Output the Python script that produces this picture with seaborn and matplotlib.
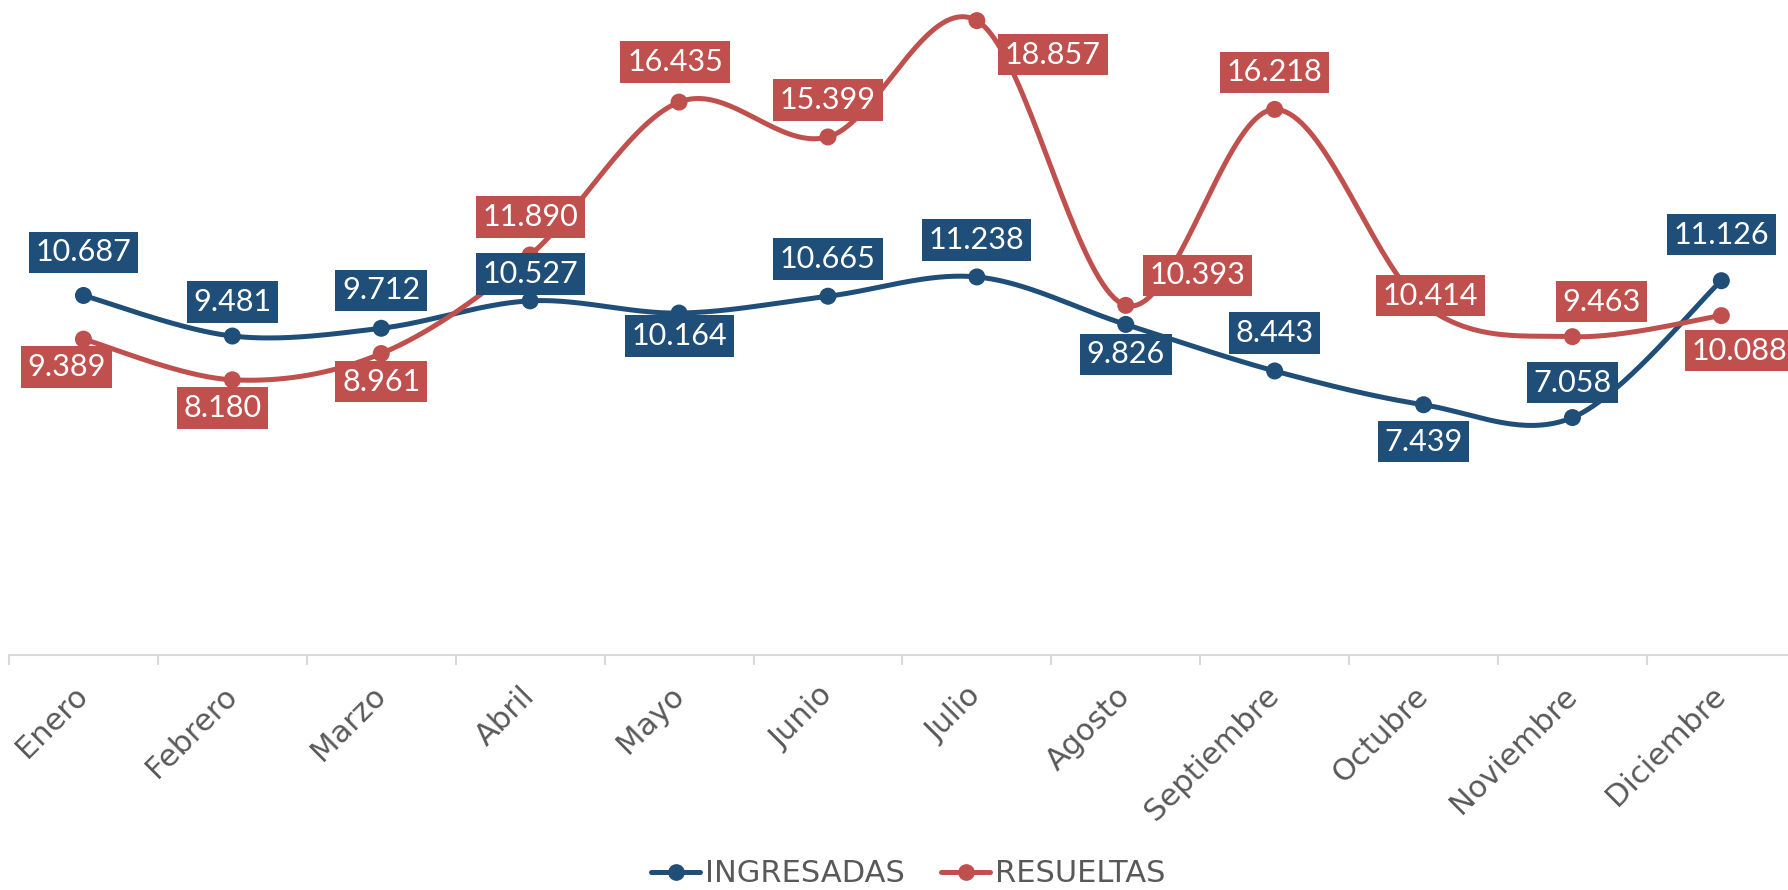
import numpy as np
import pandas as pd
import matplotlib
matplotlib.use("Agg")
import matplotlib.pyplot as plt
from matplotlib.lines import Line2D
import seaborn as sns

months = ["Enero", "Febrero", "Marzo", "Abril", "Mayo", "Junio", "Julio",
          "Agosto", "Septiembre", "Octubre", "Noviembre", "Diciembre"]
ingresadas = [10.687, 9.481, 9.712, 10.527, 10.164, 10.665, 11.238,
              9.826, 8.443, 7.439, 7.058, 11.126]
resueltas = [9.389, 8.180, 8.961, 11.890, 16.435, 15.399, 18.857,
             10.393, 16.218, 10.414, 9.463, 10.088]
series_names = ["INGRESADAS", "RESUELTAS"]

BLUE = "#1F4E79"
RED = "#C0504D"
GREY = "#595959"

# label offsets in pixels (dx, dy with y up)
off_ing = [(0, 43), (0, 34), (0, 38), (0, 27), (0, -23), (0, 37), (0, 37),
           (0, -30), (0, 38), (0, -37), (0, 35), (0, 46)]
off_res = [(-17, -28), (-10, -28), (0, -28), (0, 38), (-4, 40), (0, 37), (76, -34),
           (72, 30), (0, 37), (7, 9), (29, 35), (18, -35)]


def smooth(y, n=40):
    """Excel-style smoothed line (cubic Bezier, Catmull-Rom tangents / 6)."""
    y = np.asarray(y, float)
    x = np.arange(len(y), dtype=float)
    P = np.column_stack([x, y])
    out = []
    t = np.linspace(0, 1, n)[:, None]
    for i in range(len(P) - 1):
        p0 = P[max(i - 1, 0)]
        p1 = P[i]
        p2 = P[i + 1]
        p3 = P[min(i + 2, len(P) - 1)]
        c1 = p1 + (p2 - p0) / 6.0
        c2 = p2 - (p3 - p1) / 6.0
        seg = ((1 - t) ** 3) * p1 + 3 * ((1 - t) ** 2) * t * c1 + 3 * (1 - t) * t ** 2 * c2 + t ** 3 * p2
        out.append(seg if i == 0 else seg[1:])
    return np.vstack(out)


sns.set_theme(style="white")
plt.rcParams["font.family"] = ["DejaVu Sans"]

fig = plt.figure(figsize=(17.88, 8.90), dpi=100)
ax = fig.add_axes([9 / 1788, 1 - 655 / 890, 1786.8 / 1788, 655 / 890])

rows = []
for name, vals in zip(series_names, [ingresadas, resueltas]):
    c = smooth(vals)
    for xx, yy in c:
        rows.append({"x": xx, "y": yy, "serie": name})
curve_df = pd.DataFrame(rows)
pts_df = pd.DataFrame({
    "x": list(range(12)) * 2,
    "y": ingresadas + resueltas,
    "serie": [series_names[0]] * 12 + [series_names[1]] * 12,
})
palette = {series_names[0]: BLUE, series_names[1]: RED}

sns.lineplot(data=curve_df, x="x", y="y", hue="serie", palette=palette,
             linewidth=3.6, sort=False, estimator=None, legend=False, ax=ax,
             zorder=2)
sns.scatterplot(data=pts_df, x="x", y="y", hue="serie", palette=palette,
                s=150, edgecolor="none", legend=False, ax=ax, zorder=3)

for vals, offs, col in [(ingresadas, off_ing, BLUE), (resueltas, off_res, RED)]:
    for i, (v, (dx, dy)) in enumerate(zip(vals, offs)):
        ax.annotate(f"{v:.3f}", xy=(i, v), xytext=(dx, dy), textcoords="offset pixels",
                    ha="center", va="center", color="white", fontsize=22,
                    family="Lato", fontweight="normal",
                    bbox=dict(boxstyle="square,pad=0.22", fc=col, ec="none"),
                    zorder=5, annotation_clip=False)

ax.set_xlim(-0.5, 11.5)
ax.set_ylim(0, 19.47)
ax.set_xticks(range(12))
ax.set_xticklabels(months, rotation=45, ha="right", va="center",
                   rotation_mode="anchor", color=GREY, fontsize=22)
ax.set_xticks(np.arange(-0.5, 12, 1), minor=True)
ax.tick_params(axis="x", which="major", length=0, pad=26)
ax.tick_params(axis="x", which="minor", length=7, width=1.5, color="#D9D9D9", bottom=True)
ax.set_yticks([])
ax.set_xlabel("")
ax.set_ylabel("")
for s in ["top", "right", "left"]:
    ax.spines[s].set_visible(False)
ax.spines["bottom"].set_color("#D9D9D9")
ax.spines["bottom"].set_linewidth(1.5)
ax.patch.set_alpha(0)

handles = [Line2D([0], [0], color=BLUE, lw=3.6, marker="o", markersize=11),
           Line2D([0], [0], color=RED, lw=3.6, marker="o", markersize=11)]
leg = fig.legend(handles, series_names, loc="center", bbox_to_anchor=(0.508, 0.018),
                 ncol=2, frameon=False, fontsize=22, handlelength=1.6,
                 handletextpad=0.15, columnspacing=1.2)
for t in leg.get_texts():
    t.set_color(GREY)

fig.savefig("out.png", dpi=100)
